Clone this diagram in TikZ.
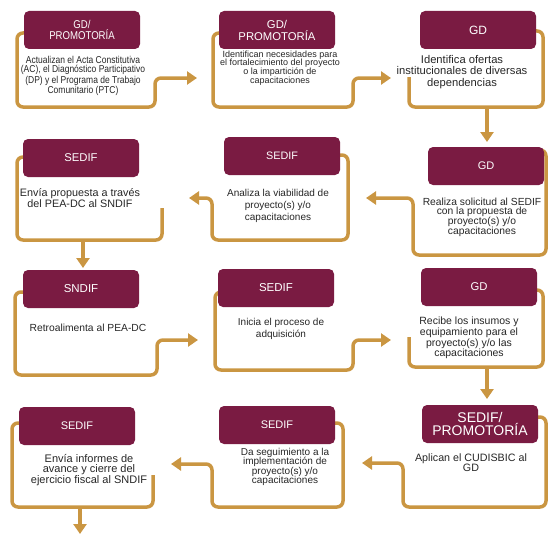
\documentclass[tikz,border=0pt]{standalone}
\usepackage{fontspec}
\setmainfont{Liberation Sans}
\newfontfamily\narrow{Liberation Sans}[FakeStretch=0.85]
\usetikzlibrary{arrows.meta}
\definecolor{guinda}{RGB}{122,27,66}
\definecolor{dorado}{RGB}{202,150,66}
\newcommand{\fs}[2]{\fontsize{#1}{#2}\selectfont}
\tikzset{
  head/.style={fill=guinda,text=white,rounded corners=5pt,minimum width=116pt,minimum height=38pt,align=center,inner sep=1pt},
  desc/.style={align=center,inner sep=0pt,text=black!85},
  frame/.style={draw=dorado,line width=3.5pt,rounded corners=6pt},
  tip/.style={-{Triangle[width=13pt,length=10pt]}},
}
\begin{document}
\begin{tikzpicture}[x=1pt,y=-1pt]
\useasboundingbox (0,0) rectangle (548,535);
% ends of the connectors
\coordinate (a12) at (197,78);
\coordinate (a23) at (391,78);
\coordinate (a65) at (366,198);
\coordinate (a54) at (189,198);
\coordinate (a78) at (198,340);
\coordinate (a89) at (391,340);
\coordinate (a1211) at (362,463);
\coordinate (a1110) at (171,464);
%row 1
\draw [frame,tip] (30,33) -- (17,33) -- (17,107) -- (155,107) -- (155,78) -- (a12);
\draw [frame,tip] (225,33) -- (213,33) -- (213,107) -- (353,107) -- (353,78) -- (a23);
\draw [frame] (409,77) -- (409,107) -- (543,107) -- (543,31) -- (530,31);
%row 2
\draw [frame,tip] (535,150) -- (546,150) -- (546,255) -- (413,255) -- (413,198) -- (a65);
\draw [frame,tip] (330,155) -- (348,155) -- (348,240) -- (212,240) -- (212,198) -- (a54);
\draw [frame] (30,157) -- (17,157) -- (17,240) -- (162,240) -- (162,208);
%row 3
\draw [frame,tip] (30,292) -- (15,292) -- (15,375) -- (157,375) -- (157,340) -- (a78);
\draw [frame,tip] (225,292) -- (215,292) -- (215,370) -- (353,370) -- (353,340) -- (a89);
\draw [frame] (409,337) -- (409,367) -- (543,367) -- (543,290) -- (530,290);
%row 4
\draw [frame,tip] (530,417) -- (546,417) -- (546,507) -- (403,507) -- (403,463) -- (a1211);
\draw [frame,tip] (325,423) -- (343,423) -- (343,507) -- (212,507) -- (212,464) -- (a1110);
\draw [frame] (25,423) -- (12,423) -- (12,507) -- (153,507) -- (153,475);

\node [head,font=\narrow\fs{11.3}{11.5}] (h1) at (82,30) {GD/\\PROMOTORÍA};
\node [desc,font=\narrow\fs{10}{9}] (t1) at (83,76) {Actualizan el Acta Constitutiva\\(AC), el Diagnóstico Participativo\\(DP) y el Programa de Trabajo\\Comunitario (PTC)};
\node [head,font=\fs{11.3}{12}] (h2) at (277,30) {GD/\\PROMOTORÍA};
\node [desc,font=\fs{9}{8.8}] (t2) at (280,68) {Identifican necesidades para\\el fortalecimiento del proyecto\\o la impartición de\\capacitaciones};
\node [head,font=\fs{12}{13}] (h3) at (478,30) {GD};
\node [desc,font=\fs{11.2}{11.2}] (t3) at (462,72) {Identifica ofertas\\institucionales de diversas\\dependencias};

\node [head,font=\fs{11.3}{12}] (h4) at (81,158) {SEDIF};
\node [desc,font=\fs{10.8}{10}] (t4) at (80,198) {Envía propuesta a través\\del PEA-DC al SNDIF};
\node [head,font=\fs{10.8}{12}] (h5) at (282,156) {SEDIF};
\node [desc,font=\fs{10}{12}] (t5) at (278,206) {Analiza la viabilidad de\\proyecto(s) y/o\\capacitaciones};
\node [head,font=\fs{11}{12}] (h6) at (486,166) {GD};
\node [desc,font=\fs{10.3}{9.7}] (t6) at (482,217) {Realiza solicitud al SEDIF\\con la propuesta de\\proyecto(s) y/o\\capacitaciones};

\node [head,font=\fs{11.5}{12}] (h7) at (81,289) {SNDIF};
\node [desc,font=\fs{10.3}{12}] (t7) at (88,328) {Retroalimenta al PEA-DC};
\node [head,font=\fs{11.5}{12}] (h8) at (276,288) {SEDIF};
\node [desc,font=\fs{10}{12}] (t8) at (281,329) {Inicia el proceso de\\adquisición};
\node [head,font=\fs{11.3}{12}] (h9) at (479,287) {GD};
\node [desc,font=\fs{10.5}{9.5}] (t9) at (469,338) {Recibe los insumos y\\equipamiento para el\\proyecto(s) y/o las\\capacitaciones};

\node [head,font=\fs{11}{12}] (h10) at (77,426) {SEDIF};
\node [desc,font=\fs{11}{10}] (t10) at (89,470) {Envía informes de\\avance y cierre del\\ejercicio fiscal al SNDIF};
\node [head,font=\fs{11}{12}] (h11) at (277,425) {SEDIF};
\node [desc,font=\fs{10}{9.5}] (t11) at (285,467) {Da seguimiento a la\\implementación de\\proyecto(s) y/o\\capacitaciones};
\node [head,font=\fs{14}{13}] (h12) at (480,424) {SEDIF/\\PROMOTORÍA};
\node [desc,font=\fs{10.7}{10}] (t12) at (471,463) {Aplican el CUDISBIC al\\GD};

% down arrows
\draw [frame,tip] (487,107) -- (487,142);
\draw [frame,tip] (83,240) -- (83,268);
\draw [frame,tip] (487,367) -- (487,399);
\draw [frame,tip] (80,507) -- (80,534);
\end{tikzpicture}
\end{document}
